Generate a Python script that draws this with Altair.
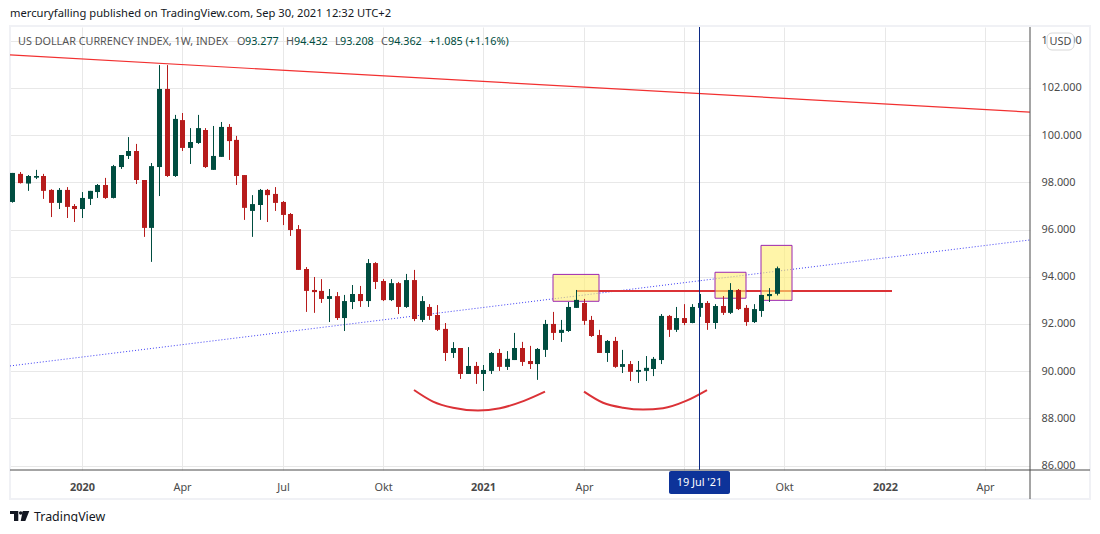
import altair as alt
import pandas as pd

opens = [97.17,98.36,97.95,98.20,98.27,97.68,97.13,97.68,97.00,96.87,97.30,97.59,97.89,97.34,98.65,99.12,99.33,98.10,96.07,98.65,
         101.96,98.27,100.64,99.46,99.67,100.22,98.53,99.08,100.35,99.80,98.31,96.79,97.04,97.68,97.51,97.17,96.66,96.02,94.33,93.44,
         93.40,93.06,93.18,92.25,92.93,93.27,92.97,94.58,93.82,93.01,93.73,92.72,93.86,92.17,92.72,92.38,91.79,90.77,90.98,89.88,
         90.22,89.88,90.01,90.77,90.18,90.47,90.98,90.43,90.30,90.90,92.00,91.62,91.70,92.68,92.89,92.17,91.53,90.77,91.28,90.18,
         90.30,89.97,90.01,90.09,90.47,92.34,91.75,92.25,92.04,92.68,92.89,92.04,92.76,92.47,93.44,92.68,92.08,92.55,93.18,93.277]
highs = [98.40,98.44,98.31,98.53,98.36,97.71,97.76,97.80,97.08,97.59,97.64,97.93,98.19,98.74,99.16,99.92,99.63,98.10,98.82,102.97,
         102.97,100.86,100.94,100.30,100.86,100.30,100.39,100.56,100.47,99.97,98.31,97.46,97.72,97.72,97.80,97.21,96.70,96.19,94.41,93.99,
         93.90,93.48,93.35,93.23,93.65,93.61,94.75,94.62,93.90,93.90,93.78,94.12,94.29,93.18,92.84,92.80,92.04,91.23,90.98,91.02,
         90.39,90.26,90.81,90.94,90.85,91.62,91.24,91.07,90.98,92.17,92.51,92.17,92.93,93.44,93.06,92.34,91.75,91.32,91.45,90.90,
         90.43,90.43,90.64,90.60,92.42,92.38,92.72,92.84,92.84,93.27,92.97,92.84,93.18,93.73,93.48,92.80,92.84,93.23,93.52,94.432]
lows = [97.14,97.95,97.64,98.14,97.30,96.53,96.87,96.49,96.32,96.49,97.04,97.34,97.30,97.32,98.57,98.99,97.93,95.69,94.63,97.42,
        98.23,98.23,99.33,98.78,99.63,98.61,98.53,99.08,98.95,97.89,96.41,95.69,96.41,96.32,96.79,96.19,95.73,94.29,92.51,92.47,
        92.89,92.08,92.17,91.70,92.63,92.72,92.72,93.48,92.97,92.97,92.42,92.68,92.12,92.08,92.17,91.70,90.43,90.56,89.67,89.88,
        89.46,89.16,89.88,90.01,90.05,90.47,90.22,90.09,89.63,90.60,91.32,91.24,91.66,92.68,91.96,91.45,90.77,90.39,90.14,89.92,
        89.58,89.50,89.58,89.79,90.30,91.45,91.66,91.95,92.03,92.30,91.75,91.79,92.38,92.42,92.59,91.92,92.04,92.30,92.93,93.208]
closes = [98.40,97.97,98.27,98.27,97.64,97.13,97.68,96.96,96.87,97.34,97.64,97.89,97.34,98.69,99.16,99.33,98.10,96.07,98.69,101.96,
          98.27,100.69,99.46,99.71,100.30,98.65,99.12,100.35,99.75,98.27,96.92,97.08,97.68,97.46,97.13,96.62,95.98,94.29,93.40,93.35,
          93.06,93.18,92.25,92.97,93.27,92.97,94.58,93.78,93.01,93.73,92.72,93.86,92.21,92.97,92.34,91.75,90.77,90.98,89.88,90.22,
          89.88,90.05,90.77,90.18,90.52,90.98,90.39,90.30,90.94,92.00,91.62,91.75,92.72,93.02,92.13,91.49,90.77,91.28,90.18,90.30,
          89.97,90.05,90.14,90.52,92.34,91.75,92.25,92.04,92.72,92.89,92.04,92.76,92.47,93.44,92.63,92.08,92.63,93.23,93.27,94.362]

x_tick_values = [9, 22, 35, 48, 61, 74, 87, 100, 113, 126]
x_tick_labels = ["2020", "Apr", "Jul", "Okt", "2021", "Apr", "Jul", "Okt", "2022", "Apr"]
bold_ticks = [9, 61, 113]
y_tick_values = [86, 88, 90, 92, 94, 96, 98, 100, 102, 104]

X_DOMAIN = [-0.32, 131.8]
Y_DOMAIN = [85.81, 104.585]

resistance_x = [-0.32, 131.8]
resistance_y = [103.40, 100.98]
support_x = [-0.32, 131.8]
support_y = [90.22, 95.56]
neck_x = [73.1, 113.9]
neck_y = [93.40, 93.40]
arc1_x = [52.0, 54.5, 57.1, 60.3, 63.1, 66.2, 69.0]
arc1_y = [89.20, 88.71, 88.45, 88.33, 88.43, 88.74, 89.13]
arc2_x = [74.07, 76.5, 79.1, 81.7, 84.3, 87.3, 90.0]
arc2_y = [89.13, 88.66, 88.45, 88.37, 88.43, 88.74, 89.20]
box_x = [70.05, 91.04, 97.0]
box_x2 = [76.01, 95.05, 101.0]
box_y = [94.10, 94.19, 95.33]
box_y2 = [92.96, 93.09, 93.00]
crosshair_x = [89]

UI_FONT = "Noto Sans"
TEXT_SIZE = 11.2
AXIS_SIZE = 10.9
GREY = "#555555"
GREEN = "#004D40"
RED = "#B71C1C"
NAVY = "#0C2A85"
AXIS_LINE = "#4a4a4a"

candles = pd.DataFrame({"i": list(range(len(opens))), "o": opens, "h": highs, "l": lows, "c": closes})
candles["dir"] = ["up" if c >= o else "down" for o, c in zip(opens, closes)]

x_scale = alt.Scale(domain=X_DOMAIN, nice=False, zero=False, padding=0, round=True)
y_scale = alt.Scale(domain=Y_DOMAIN, nice=False, zero=False, padding=0)
color_scale = alt.Scale(domain=["up", "down"], range=[GREEN, RED])

label_expr = "[" + ",".join(f"'{t}'" for t in x_tick_labels) + "][indexof([" + ",".join(map(str, x_tick_values)) + "],datum.value)]"
bold_test = " || ".join(f"datum.value == {v}" for v in bold_ticks)

x_axis = alt.Axis(values=x_tick_values, title=None, domain=False, ticks=False, labelExpr=label_expr,
                  labelFontSize=AXIS_SIZE, labelFont=UI_FONT, labelColor="#4a4a4a", labelPadding=11, labelOverlap=False,
                  labelFontWeight={"condition": {"test": bold_test, "value": "bold"}, "value": "normal"},
                  grid=True, gridColor="#e8e8e8", gridWidth=1)
y_axis = alt.Axis(values=y_tick_values, orient="right", title=None, domain=False, ticks=False, format=".3f",
                  labelFontSize=AXIS_SIZE, labelFont=UI_FONT, labelColor="#4a4a4a", labelPadding=11,
                  grid=True, gridColor="#e8e8e8", gridWidth=1)

base_x = alt.X("x:Q", scale=x_scale, axis=x_axis)
base_y = alt.Y("y:Q", scale=y_scale, axis=y_axis)

def line_layer(xs, ys, color, width, dash=None, interpolate="linear"):
    kw = {"strokeDash": dash} if dash else {}
    return alt.Chart(pd.DataFrame({"x": xs, "y": ys})).mark_line(
        color=color, strokeWidth=width, interpolate=interpolate, **kw).encode(x=base_x, y=base_y)

resistance = line_layer(resistance_x, resistance_y, "#F23030", 1.2)
support = line_layer(support_x, support_y, "#3D3DF5", 1, dash=[1, 2])
neck = line_layer(neck_x, neck_y, "#DB3237", 2)
arc1 = line_layer(arc1_x, arc1_y, "#DB3237", 2, interpolate="monotone")
arc2 = line_layer(arc2_x, arc2_y, "#DB3237", 2, interpolate="monotone")

boxes = alt.Chart(pd.DataFrame({"x": box_x, "x2": box_x2, "y": box_y, "y2": box_y2})).mark_rect(
    fill="#FFEE70", fillOpacity=0.6, stroke="#9C27B0", strokeWidth=1).encode(
    x=base_x, x2="x2:Q", y=base_y, y2="y2:Q")

wicks = alt.Chart(candles).mark_rule(strokeWidth=1, xOffset=0.5).encode(
    x=alt.X("i:Q", scale=x_scale, axis=x_axis),
    y=alt.Y("l:Q", scale=y_scale, axis=y_axis), y2="h:Q",
    color=alt.Color("dir:N", scale=color_scale, legend=None))
bodies = alt.Chart(candles).mark_bar(size=5, xOffset=0.5).encode(
    x=alt.X("i:Q", scale=x_scale, axis=x_axis),
    y=alt.Y("o:Q", scale=y_scale, axis=y_axis), y2="c:Q",
    color=alt.Color("dir:N", scale=color_scale, legend=None))

cross = alt.Chart(pd.DataFrame({"x": crosshair_x})).mark_rule(color=NAVY, strokeWidth=1, xOffset=-0.5).encode(
    x=base_x, y=alt.value(0), y2=alt.value(443))

one = pd.DataFrame({"a": [0]})

def vrule(px, y1, y2, color=AXIS_LINE, width=1):
    return alt.Chart(one).mark_rule(color=color, strokeWidth=width).encode(
        x=alt.value(px), y=alt.value(y1), y2=alt.value(y2))

def hrule(py, x1, x2, color=AXIS_LINE, width=1):
    return alt.Chart(one).mark_rule(color=color, strokeWidth=width).encode(
        y=alt.value(py), x=alt.value(x1), x2=alt.value(x2))

def label(px, py, s, color=GREY, size=TEXT_SIZE, weight="normal", align="left"):
    return alt.Chart(one).mark_text(color=color, fontSize=size, font=UI_FONT, fontWeight=weight,
                                    align=align, baseline="middle").encode(
        x=alt.value(px), y=alt.value(py), text=alt.value(s))

frame = alt.Chart(one).mark_rect(fill="transparent", stroke="#f0f1f5", strokeWidth=2).encode(
    x=alt.value(0), x2=alt.value(1080), y=alt.value(-1), y2=alt.value(472))

usd_box = alt.Chart(one).mark_rect(fill="white", stroke="#d8d8d8", strokeWidth=1, cornerRadius=5).encode(
    x=alt.value(1037), x2=alt.value(1064), y=alt.value(6), y2=alt.value(23))

date_box = alt.Chart(one).mark_rect(fill="#0D3399", cornerRadius=2).encode(
    x=alt.value(659), x2=alt.value(720), y=alt.value(444), y2=alt.value(467))

logo = alt.Chart(one).mark_point(
    shape="M-1,-0.5H-0.17V0.5H-0.6V-0.2H-1Z M0.27,-0.5H0.93L0.53,0.5H0.07Z M-0.1,-0.3a0.17,0.17 0 1 0 0.34,0a0.17,0.17 0 1 0 -0.34,0Z",
    filled=True, color="#131722", opacity=1, size=400, strokeWidth=0).encode(x=alt.value(10), y=alt.value(489))

LEG = 10.8
LEG_Y = 15
texts = [
    label(0, -13, "mercuryfalling published on TradingView.com, Sep 30, 2021 12:32 UTC+2", color="#131722"),
    label(8, LEG_Y, "US DOLLAR CURRENCY INDEX, 1W, INDEX", size=LEG),
    label(227, LEG_Y, "O", size=LEG), label(235, LEG_Y, "93.277", color=GREEN, size=LEG),
    label(276, LEG_Y, "H", size=LEG), label(284, LEG_Y, "94.432", color=GREEN, size=LEG),
    label(325, LEG_Y, "L", size=LEG), label(330, LEG_Y, "93.208", color=GREEN, size=LEG),
    label(371, LEG_Y, "C", size=LEG), label(378, LEG_Y, "94.362", color=GREEN, size=LEG),
    label(419, LEG_Y, "+1.085 (+1.16%)", color=GREEN, size=LEG),
    label(1050.5, 14.5, "USD", color="#4a4a4a", align="center", size=AXIS_SIZE),
    label(689.5, 456, "19 Jul '21", color="white", align="center", size=AXIS_SIZE),
    label(24, 489.5, "TradingView", color="#131722", size=12.4),
]

chart = alt.layer(
    frame, support, resistance, neck, arc1, arc2, boxes, wicks, bodies, cross,
    vrule(1020, 0, 472), hrule(443, 0, 1080), usd_box, date_box, logo, *texts
).properties(
    width=1020, height=443,
    padding={"left": 2, "top": 19, "right": 62, "bottom": 52},
    autosize=alt.AutoSizeParams(type="none"),
    background="white"
).configure_view(stroke=None)

chart.save("out.html", embed_options={"renderer": "svg", "actions": False})
